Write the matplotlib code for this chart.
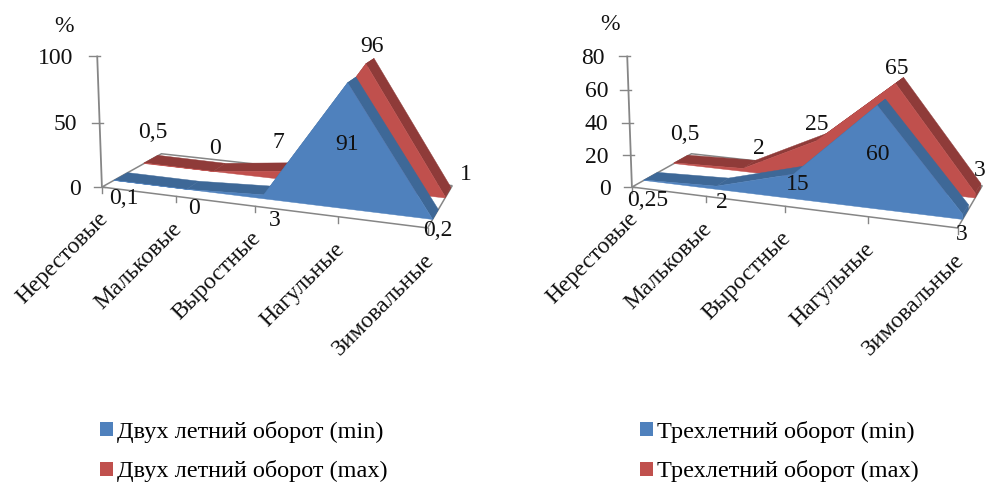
import numpy as np
import matplotlib
matplotlib.use("Agg")
import matplotlib.pyplot as plt
from matplotlib.patches import Patch

plt.rcParams['font.family'] = ['Liberation Serif', 'DejaVu Serif']

categories = ['Нерестовые', 'Мальковые', 'Выростные', 'Нагульные', 'Зимовальные']

two_year_min = [0.1, 0, 3, 91, 0.2]
two_year_max = [0.5, 0, 7, 96, 1]
three_year_min = [0.25, 2, 15, 60, 3]
three_year_max = [0.5, 2, 25, 65, 3]

two_year_ticks = [0, 50, 100]
three_year_ticks = [0, 20, 40, 60, 80]

two_year_names = ['Двух летний оборот (min)', 'Двух летний оборот (max)']
three_year_names = ['Трехлетний оборот (min)', 'Трехлетний оборот (max)']

BLUE, BLUE_DARK = '#4f81bd', '#3e6897'
RED, RED_DARK = '#c0504d', '#8f3b39'
GREY = '#868686'
INK = '#111111'
FS = 17

# depth of the two ribbons on the floor (front, back)
BLUE_DEPTH = (0.18, 0.40)
RED_DEPTH = (0.68, 0.93)

# camera calibration: (along, depth, height) -> pixel of the left chart
CALIB = [
    ((0, 0, 0), (103, 188)), ((1, 0, 0), (428, 228)),
    ((1, 1, 0), (453, 184)), ((0, 1, 0), (161, 154)),
    ((0, 0, 1), (97, 55)), ((0, 0, 0.5), (100, 122)),
    ((.25, 0, 0), (176, 197)), ((.5, 0, 0), (254, 206)), ((.75, 0, 0), (337, 217)),
    ((.75, .18, .91), (347, 83)), ((.75, .40, .91), (357, 78)),
    ((.75, .93, .96), (372, 59)), ((.75, .18, .75), (348, 105)),
    ((.75, .93, .8125), (375, 78)),
]


def fit_camera(calib):
    rows, rhs = [], []
    for (X, Y, Z), (x, y) in calib:
        rows.append([X, Y, Z, 1, 0, 0, 0, 0, -x * X, -x * Y, -x * Z])
        rows.append([0, 0, 0, 0, X, Y, Z, 1, -y * X, -y * Y, -y * Z])
        rhs += [x, y]
    p = np.linalg.lstsq(np.array(rows, float), np.array(rhs, float), rcond=None)[0]
    return np.append(p, 1).reshape(3, 4)


CAM = fit_camera(CALIB)


def project(u, d, h, dx=0):
    w = CAM @ np.array([u, d, h, 1.0])
    return w[0] / w[2] + dx, w[1] / w[2]


def draw_series(ax, values, vmax, depth, face, dark, dx):
    us = np.linspace(0, 1, len(values))
    hs = np.array(values) / vmax
    front = [project(u, depth[0], h, dx) for u, h in zip(us, hs)]
    back = [project(u, depth[1], h, dx) for u, h in zip(us, hs)]
    for i in range(len(values) - 1):
        ax.fill(*zip(front[i], front[i + 1], back[i + 1], back[i]),
                fc=dark, ec=dark, lw=0.3)
    # end cap on the right
    ax.fill(*zip(front[-1], back[-1], project(1, depth[1], 0, dx), project(1, depth[0], 0, dx)),
            fc=dark, ec=dark, lw=0.3)
    base = [project(u, depth[0], 0, dx) for u in us[::-1]]
    ax.fill(*zip(*(front + base)), fc=face, ec=face, lw=0.3)


def draw_chart(ax, s_min, s_max, yticks, names, dx, pct_pos, tick_right,
               min_label_pos, max_label_pos, legend_x):
    ax.set_xlim(0, 987)
    ax.set_ylim(483, 0)
    ax.axis('off')
    ax.patch.set_alpha(0)
    vmax = yticks[-1]

    # floor
    corners = [project(0, 0, 0, dx), project(1, 0, 0, dx), project(1, 1, 0, dx), project(0, 1, 0, dx)]
    ax.fill(*zip(*corners), fc='white', ec=GREY, lw=1.1)

    # value axis
    ax.plot(*zip(project(0, 0, 0, dx), project(0, 0, 1, dx)), color=GREY, lw=1.3)
    for t, right in zip(yticks, tick_right):
        x, y = project(0, 0, t / vmax, dx)
        ax.plot([x - 8, x + 3], [y, y], color=GREY, lw=1.0)
        ax.text(right, y + 2, str(t), ha='right', va='center', fontsize=FS, color=INK)

    # category ticks and labels
    for u, name in zip(np.linspace(0, 1, len(categories)), categories):
        x, y = project(u, 0, 0, dx)
        ax.plot([x, x], [y, y + 6], color=GREY, lw=1.0)
        ax.text(x + 3, y + 29, name, rotation=45, rotation_mode='anchor',
                ha='right', va='center', fontsize=FS, color=INK)

    draw_series(ax, s_max, vmax, RED_DEPTH, RED, RED_DARK, dx)
    draw_series(ax, s_min, vmax, BLUE_DEPTH, BLUE, BLUE_DARK, dx)

    for vals, positions in ((s_min, min_label_pos), (s_max, max_label_pos)):
        for v, (x, y) in zip(vals, positions):
            ax.text(x, y, f'{v:g}'.replace('.', ','), ha='center', va='center',
                    fontsize=FS, color=INK)

    ax.text(*pct_pos, '%', ha='center', va='center', fontsize=FS, color=INK)

    handles = [Patch(fc=BLUE, ec='none'), Patch(fc=RED, ec='none')]
    ax.legend(handles, names, loc='upper left', bbox_to_anchor=(legend_x, 421),
              bbox_transform=ax.transData, frameon=False, fontsize=17.5,
              handlelength=0.53, handleheight=0.5, handletextpad=0.17,
              labelspacing=0.72, borderpad=0, borderaxespad=0)


fig = plt.figure(figsize=(9.87, 4.83), dpi=100)
ax_left = fig.add_axes([0, 0, 1, 1])
ax_right = fig.add_axes([0, 0, 1, 1])

draw_chart(ax_left, two_year_min, two_year_max, two_year_ticks, two_year_names, 0,
           (64, 27), [81, 77, 73],
           [(124, 199), (194, 208), (275, 220), (347, 145), (438, 230)],
           [(153, 133), (215, 148), (278, 143), (372, 47), (466, 175)], 100)
draw_chart(ax_right, three_year_min, three_year_max, three_year_ticks, three_year_names, 530,
           (610, 24), [611, 608, 608, 608, 605],
           [(648, 200), (722, 202), (798, 184), (878, 155), (962, 235)],
           [(685, 134), (759, 148), (817, 125), (897, 68), (980, 170)], 640)

fig.savefig('out.png', dpi=100)
plt.close(fig)
